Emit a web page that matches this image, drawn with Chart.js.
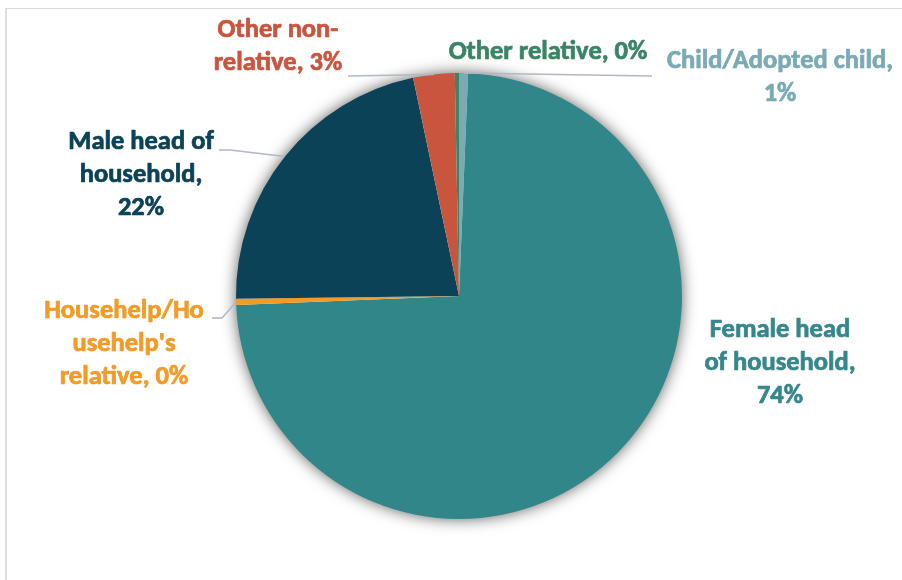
<!DOCTYPE html>
<html>
<head>
<meta charset="utf-8">
<title>Relationship to head of household</title>
<script src="https://cdn.jsdelivr.net/npm/chart.js@4.4.1/dist/chart.umd.min.js"></script>
<style>
  html, body { margin: 0; padding: 0; background: #ffffff; }
  #wrap { position: relative; width: 902px; height: 580px; overflow: hidden; }
  #frame {
    position: absolute; left: 5px; top: 8px; right: -10px; bottom: -10px;
    border-top: 1px solid #d9d9d9; border-left: 2px solid #dedee3;
  }
  #pie { position: absolute; left: 0; top: 0; }
</style>
</head>
<body>
<div id="wrap">
  <div id="frame"></div>
  <canvas id="pie" width="902" height="580"></canvas>
</div>
<script>
// Relationship to the head of household, share of respondents (%)
const categories = [
  'Child/Adopted child',
  'Female head of household',
  "Househelp/Househelp's relative",
  'Male head of household',
  'Other non-relative',
  'Other relative'
];
const shares = [0.65, 73.7, 0.45, 21.9, 3.0, 0.3];

// how each category name wraps in its label
const labelLines = [
  ['Child/Adopted child,'],
  ['Female head', 'of household,'],
  ['Househelp/Ho', "usehelp's", 'relative,'],
  ['Male head of', 'household,'],
  ['Other non-', 'relative,'],
  ['Other relative,']
];

const sliceColors = ['#7aaab3', '#31868a', '#f29b26', '#0b4257', '#c9553e', '#3a8466'];
const textColors  = ['#7aaab3', '#35878b', '#f29b26', '#0b4257', '#c9553e', '#3a8466'];

// label placement relative to the pie centre: x = centre of text, y = first baseline
// lead = where the leader line leaves the label (null = no line)
const labelPos = [
  { x: 321, y: -228, lead: [193, -220] },
  { x: 321, y: 41, lead: null },
  { x: -335, y: 22, lead: [-247, 22, -237, 22] },
  { x: -318, y: -147, lead: [-240, -146, -229, -146] },
  { x: -181, y: -259, lead: [-111, -220] },
  { x: 89, y: -237, lead: null }
];
const LINE_H = 33;
const FONT = 'bold 26.5px Carlito, Calibri, Lato, sans-serif';

const total = shares.reduce((a, b) => a + b, 0);
const pctText = v => Math.round(v / total * 100) + '%';

// soft shadow under the whole pie
const pieShadow = {
  id: 'pieShadow',
  beforeDatasetsDraw(chart) {
    const arc = chart.getDatasetMeta(0).data[0];
    const ctx = chart.ctx;
    ctx.save();
    ctx.shadowColor = 'rgba(0,0,0,0.7)';
    ctx.shadowBlur = 16;
    ctx.fillStyle = '#ffffff';
    ctx.beginPath();
    ctx.arc(arc.x, arc.y, arc.outerRadius - 1, 0, Math.PI * 2);
    ctx.fill();
    ctx.restore();
  }
};

// data labels with leader lines
const pieLabels = {
  id: 'pieLabels',
  afterDatasetsDraw(chart) {
    const ctx = chart.ctx;
    const arcs = chart.getDatasetMeta(0).data;
    ctx.save();
    ctx.font = FONT;
    ctx.textAlign = 'center';
    ctx.textBaseline = 'alphabetic';
    arcs.forEach((arc, i) => {
      const cx = arc.x, cy = arc.y;
      const pos = labelPos[i];
      const lines = labelLines[i].slice();
      const last = lines.length - 1;
      const pct = pctText(shares[i]);
      // append the percentage to the last line or put it on its own line
      if (i === 0 || i === 1 || i === 3) lines.push(pct);
      else lines[last] = lines[last] + ' ' + pct;

      if (pos.lead) {
        const mid = (arc.startAngle + arc.endAngle) / 2;
        const ex = cx + Math.cos(mid) * arc.outerRadius;
        const ey = cy + Math.sin(mid) * arc.outerRadius;
        ctx.strokeStyle = '#b3b6c6';
        ctx.lineWidth = 1.5;
        ctx.beginPath();
        ctx.moveTo(cx + pos.lead[0], cy + pos.lead[1]);
        for (let k = 2; k < pos.lead.length; k += 2) ctx.lineTo(cx + pos.lead[k], cy + pos.lead[k + 1]);
        ctx.lineTo(ex, ey);
        ctx.stroke();
      }

      // a thin outline in the same colour makes the bold face a bit heavier
      ctx.fillStyle = textColors[i];
      ctx.strokeStyle = textColors[i];
      ctx.lineWidth = 0.7;
      ctx.lineJoin = 'round';
      lines.forEach((t, k) => {
        const tx = cx + pos.x, ty = cy + pos.y + k * LINE_H;
        ctx.fillText(t, tx, ty);
        ctx.strokeText(t, tx, ty);
      });
    });
    ctx.restore();
  }
};

new Chart(document.getElementById('pie'), {
  type: 'pie',
  data: {
    labels: categories,
    datasets: [{
      data: shares,
      backgroundColor: sliceColors,
      borderWidth: 0,
      hoverOffset: 0
    }]
  },
  options: {
    responsive: false,
    animation: false,
    layout: { padding: { left: 236, right: 220, top: 73, bottom: 61 } },
    plugins: {
      legend: { display: false },
      tooltip: { enabled: false }
    }
  },
  plugins: [pieShadow, pieLabels]
});
</script>
</body>
</html>
